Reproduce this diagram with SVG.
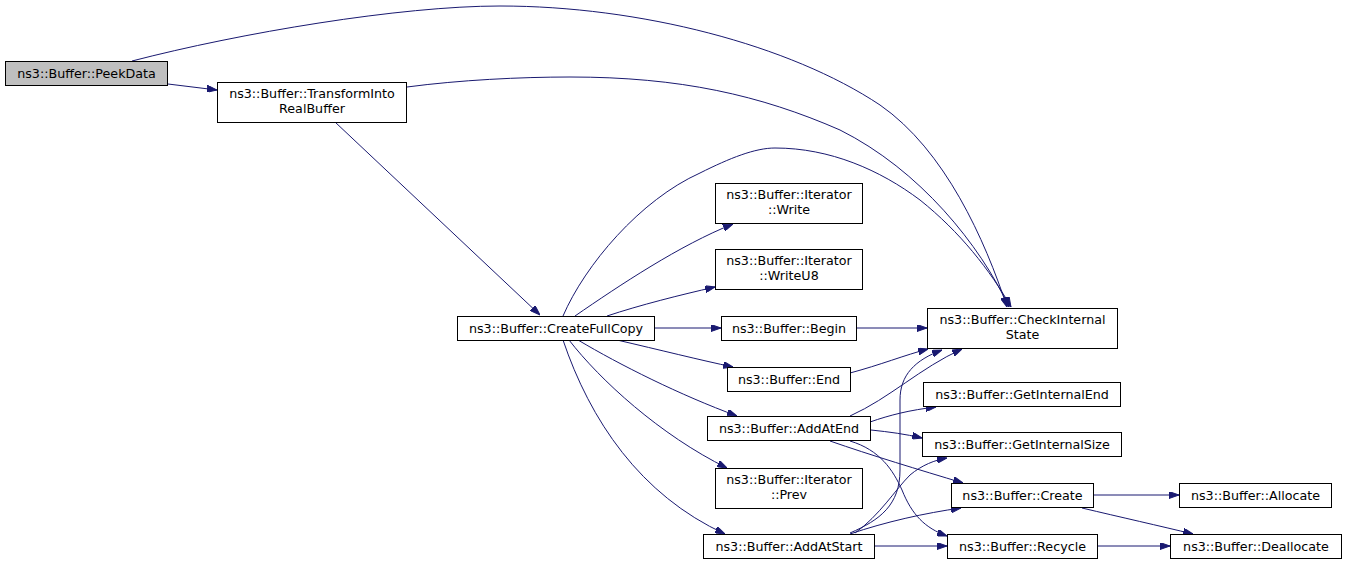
<svg xmlns="http://www.w3.org/2000/svg" width="1347" height="565" viewBox="0 0 1347 565">
<style>
.n rect{fill:#ffffff;stroke:#000000;stroke-width:1}
.n.cur rect{fill:#bfbfbf}
.n text{font-family:"DejaVu Sans","Liberation Sans",sans-serif;font-size:12.7px;fill:#000000;text-anchor:middle}
.e path{fill:none;stroke:#191970;stroke-width:1;marker-end:url(#arr)}
</style>
<defs>
<marker id="arr" markerWidth="10" markerHeight="7" refX="10" refY="3.5" orient="auto" markerUnits="userSpaceOnUse">
<path d="M0,0 L10,3.5 L0,7 z" fill="#191970" stroke="#191970" stroke-width="1"/>
</marker>
</defs>
<rect width="1347" height="565" fill="#ffffff"/>
<g id="edges" class="e">
<path d="M132,61 C240,33 400,6 500,6 C640,6 790,45 880,105 C945,150 985,240 1007,307"/>
<path d="M168,84 L217,90"/>
<path d="M407,87 C460,80 520,77 570,77 C680,77 760,95 840,130 C920,170 980,245 1009,307"/>
<path d="M335,122 L540,315"/>
<path d="M563,316 C585,265 640,200 700,173 C730,158 755,148 775,148 C830,148 880,170 920,200 C960,232 990,270 1011,307"/>
<path d="M575,316 C620,285 680,245 733,224"/>
<path d="M607,316 C640,305 680,295 715,287"/>
<path d="M655,328 L721,328"/>
<path d="M617,340 C660,350 700,360 733,367"/>
<path d="M578,340 C620,365 680,395 737,416"/>
<path d="M569,340 C600,380 660,435 727,468"/>
<path d="M563,340 C590,420 640,495 725,534"/>
<path d="M857,328 L927,328"/>
<path d="M850,373 C880,365 905,355 928,349"/>
<path d="M850,416 C890,398 920,368 962,349"/>
<path d="M870,422 C890,415 910,410 936,407"/>
<path d="M871,430 C890,432 905,434 922,438"/>
<path d="M830,441 C870,455 920,470 963,483"/>
<path d="M850,441 C880,450 893,470 902,490 C912,515 925,528 947,536"/>
<path d="M850,533 C880,520 900,505 900,470 L900,400 C900,375 915,360 942,350"/>
<path d="M855,533 C880,515 895,490 910,475 C922,465 935,460 947,458"/>
<path d="M850,534 C885,522 925,513 961,508"/>
<path d="M875,546 L947,546"/>
<path d="M1094,495 L1179,495"/>
<path d="M1082,508 C1120,517 1160,526 1193,534"/>
<path d="M1098,546 L1170,546"/>
</g>
<g id="peekdata" class="n cur"><rect x="5.5" y="61.5" width="162" height="24"/><text x="86.5" y="77.5">ns3::Buffer::PeekData</text></g>
<g id="transform" class="n"><rect x="217.5" y="82.5" width="189" height="40"/><text x="312" y="97.5">ns3::Buffer::TransformInto</text><text x="312" y="112.5">RealBuffer</text></g>
<g id="createfullcopy" class="n"><rect x="457.5" y="316.5" width="197" height="24"/><text x="556" y="332.5">ns3::Buffer::CreateFullCopy</text></g>
<g id="write" class="n"><rect x="715.5" y="183.5" width="147" height="40"/><text x="789" y="198.5">ns3::Buffer::Iterator</text><text x="789" y="213.5">::Write</text></g>
<g id="writeu8" class="n"><rect x="715.5" y="249.5" width="147" height="40"/><text x="789" y="264.5">ns3::Buffer::Iterator</text><text x="789" y="279.5">::WriteU8</text></g>
<g id="begin" class="n"><rect x="721.5" y="316.5" width="135" height="24"/><text x="789" y="332.5">ns3::Buffer::Begin</text></g>
<g id="end" class="n"><rect x="727.5" y="367.5" width="123" height="24"/><text x="789" y="383.5">ns3::Buffer::End</text></g>
<g id="addatend" class="n"><rect x="707.5" y="416.5" width="163" height="24"/><text x="789" y="432.5">ns3::Buffer::AddAtEnd</text></g>
<g id="prev" class="n"><rect x="715.5" y="468.5" width="147" height="40"/><text x="789" y="483.5">ns3::Buffer::Iterator</text><text x="789" y="498.5">::Prev</text></g>
<g id="addatstart" class="n"><rect x="703.5" y="534.5" width="171" height="24"/><text x="789" y="550.5">ns3::Buffer::AddAtStart</text></g>
<g id="checkinternalstate" class="n"><rect x="927.5" y="308.5" width="190" height="40"/><text x="1022.5" y="323.5">ns3::Buffer::CheckInternal</text><text x="1022.5" y="338.5">State</text></g>
<g id="getinternalend" class="n"><rect x="923.5" y="382.5" width="197" height="24"/><text x="1022" y="398.5">ns3::Buffer::GetInternalEnd</text></g>
<g id="getinternalsize" class="n"><rect x="922.5" y="432.5" width="199" height="24"/><text x="1022" y="448.5">ns3::Buffer::GetInternalSize</text></g>
<g id="create" class="n"><rect x="951.5" y="483.5" width="142" height="24"/><text x="1022.5" y="499.5">ns3::Buffer::Create</text></g>
<g id="recycle" class="n"><rect x="947.5" y="534.5" width="150" height="24"/><text x="1022.5" y="550.5">ns3::Buffer::Recycle</text></g>
<g id="allocate" class="n"><rect x="1179.5" y="483.5" width="152" height="24"/><text x="1255.5" y="499.5">ns3::Buffer::Allocate</text></g>
<g id="deallocate" class="n"><rect x="1170.5" y="534.5" width="171" height="24"/><text x="1256" y="550.5">ns3::Buffer::Deallocate</text></g>
</svg>
